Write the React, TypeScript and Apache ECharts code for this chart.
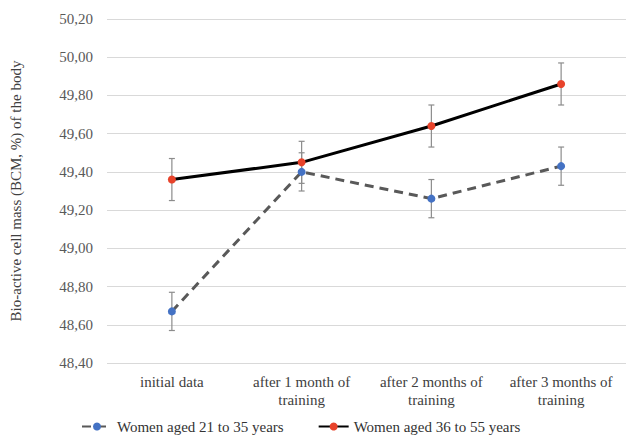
import React, { useEffect, useRef } from "react";
import * as echarts from "echarts";

const categories = [
  "initial data",
  "after 1 month of\ntraining",
  "after 2 months of\ntraining",
  "after 3 months of\ntraining",
];
const seriesNames = ["Women aged 21 to 35 years", "Women aged 36 to 55 years"];
const young = [48.67, 49.4, 49.26, 49.43];
const youngErr = [0.1, 0.1, 0.1, 0.1];
const older = [49.36, 49.45, 49.64, 49.86];
const olderErr = [0.11, 0.11, 0.11, 0.11];
const yMin = 48.4;
const yMax = 50.2;
const yStep = 0.2;
const yName = "Bio-active cell mass (BCM, %) of the body";

const FONT = "'Liberation Serif', 'Times New Roman', 'DejaVu Serif', serif";

function errData(vals: number[], errs: number[]) {
  return vals.map((v, i) => [i, v - errs[i], v + errs[i]]);
}

function errRender(params: any, api: any) {
  const x = api.value(0);
  const lo = api.coord([x, api.value(1)]);
  const hi = api.coord([x, api.value(2)]);
  const cap = 3;
  const style = { stroke: "#8c8c8c", lineWidth: 1.2 };
  return {
    type: "group",
    children: [
      { type: "line", shape: { x1: lo[0], y1: lo[1], x2: hi[0], y2: hi[1] }, style },
      { type: "line", shape: { x1: hi[0] - cap, y1: hi[1], x2: hi[0] + cap, y2: hi[1] }, style },
      { type: "line", shape: { x1: lo[0] - cap, y1: lo[1], x2: lo[0] + cap, y2: lo[1] }, style },
    ],
  };
}

export default function App() {
  const ref = useRef<HTMLDivElement>(null);
  useEffect(() => {
    document.body.style.margin = "0";
    const chart = echarts.init(ref.current!, null, { renderer: "svg" });
    chart.setOption({
      animation: false,
      backgroundColor: "#ffffff",
      textStyle: { fontFamily: FONT },
      grid: { left: 106, top: 19, width: 524, height: 344, containLabel: false },
      legend: {
        data: seriesNames,
        left: 76,
        top: 414,
        itemWidth: 30,
        itemHeight: 10,
        itemGap: 34,
        textStyle: { fontFamily: FONT, fontSize: 15, color: "#333" },
      },
      xAxis: {
        type: "category",
        data: categories,
        boundaryGap: true,
        axisLine: { show: false },
        axisTick: { show: false },
        axisLabel: {
          interval: 0,
          margin: 10,
          fontFamily: FONT,
          fontSize: 15,
          lineHeight: 18,
          color: "#404040",
        },
      },
      yAxis: {
        type: "value",
        min: yMin,
        max: yMax,
        interval: yStep,
        name: yName,
        nameLocation: "middle",
        nameGap: 84,
        nameRotate: 90,
        nameTextStyle: { fontFamily: FONT, fontSize: 15, color: "#404040" },
        axisLine: { show: false },
        axisTick: { show: false },
        axisLabel: {
          margin: 14,
          fontFamily: FONT,
          fontSize: 15,
          color: "#595959",
          formatter: (v: number) => v.toFixed(2).replace(".", ","),
        },
        splitLine: { lineStyle: { color: "#d9d9d9", width: 1 } },
      },
      series: [
        {
          type: "custom",
          renderItem: errRender,
          data: errData(young, youngErr),
          encode: { x: 0, y: [1, 2] },
          z: 1,
          silent: true,
        },
        {
          type: "custom",
          renderItem: errRender,
          data: errData(older, olderErr),
          encode: { x: 0, y: [1, 2] },
          z: 1,
          silent: true,
        },
        {
          name: seriesNames[0],
          type: "line",
          data: young,
          symbol: "circle",
          symbolSize: 8,
          z: 3,
          lineStyle: { color: "#595959", width: 3, type: [9, 6] },
          itemStyle: { color: "#4472c4" },
        },
        {
          name: seriesNames[1],
          type: "line",
          data: older,
          symbol: "circle",
          symbolSize: 8,
          z: 4,
          lineStyle: { color: "#000000", width: 3 },
          itemStyle: { color: "#e8432b" },
        },
      ],
    });
    return () => chart.dispose();
  }, []);
  return <div ref={ref} style={{ width: 626, height: 436 }} />;
}
